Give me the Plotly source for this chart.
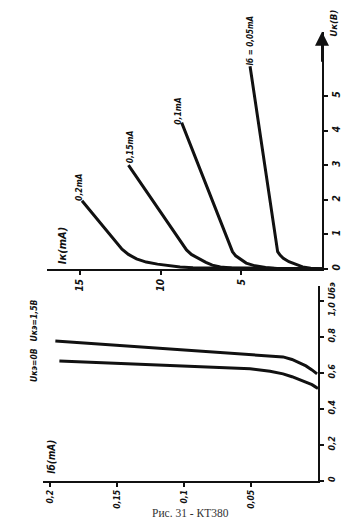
import plotly.graph_objects as go

W, H = 354, 531

# ---------------- data ----------------
# Output characteristics: Ik (mA) vs Uk (V), for base currents
ib_labels = ["Iб = 0,05mA", "0,1mA", "0,15mA", "0,2mA"]
ik_005 = [0, 0.7, 1.2, 1.67, 2.05, 2.4, 2.6, 2.75, 4.46]
uk_005 = [0, 0.02, 0.06, 0.14, 0.21, 0.31, 0.4, 0.5, 5.86]
ik_01 = [0, 2.6, 3.5, 4.15, 4.7, 5.1, 5.35, 5.55, 8.7]
uk_01 = [0, 0.01, 0.04, 0.09, 0.17, 0.29, 0.38, 0.5, 4.23]
ik_015 = [0, 4.5, 5.6, 6.3, 6.8, 7.2, 7.6, 8.1, 8.4, 12.0]
uk_015 = [0, 0.01, 0.03, 0.06, 0.11, 0.19, 0.29, 0.42, 0.55, 3.0]
ik_02 = [0, 7.0, 8.0, 8.8, 9.5, 10.2, 10.9, 11.5, 12.0, 12.4, 14.88]
uk_02 = [0, 0.02, 0.035, 0.06, 0.09, 0.14, 0.2, 0.29, 0.42, 0.57, 1.97]

# Input characteristics: Ib (mA) vs Ube (V)
ib_uce15 = [0.196, 0.0507, 0.0358, 0.0261, 0.0194, 0.0134, 0.009, 0.0045, 0.0022, 0.0007]
ube_uce15 = [0.775, 0.698, 0.692, 0.687, 0.673, 0.654, 0.637, 0.615, 0.604, 0.593]
ib_uce0 = [0.193, 0.0507, 0.0358, 0.0261, 0.0194, 0.0134, 0.009, 0.0045, 0.0022, 0.0]
ube_uce0 = [0.665, 0.621, 0.607, 0.593, 0.577, 0.56, 0.547, 0.533, 0.522, 0.511]
uce_labels = ["Uкэ=1,5В", "Uкэ=0В"]

ik_ticks = [5, 10, 15]
ik_ticktext = ["5", "10", "15"]
uk_ticks = [0, 1, 2, 3, 4, 5]
uk_ticktext = ["0", "1", "2", "3", "4", "5"]
ib_ticks = [0.05, 0.1, 0.15, 0.2]
ib_ticktext = ["0,05", "0,1", "0,15", "0,2"]
ube_ticks = [0, 0.2, 0.4, 0.6, 0.8, 1.0]
ube_ticktext = ["0", "0,2", "0,4", "0,6", "0,8", "1,0 Uбэ"]

caption = "Рис. 31 - КТ380"

# ---------------- style ----------------
INK = "#111111"
FONT = "DejaVu Sans Condensed, Liberation Sans Narrow, DejaVu Sans, sans-serif"


def px_x(p):
    return p / W


def px_y(p):
    return 1 - p / H


fig = go.Figure()

curve_style = dict(mode="lines", line=dict(color=INK, width=3, shape="linear"),
                   hoverinfo="skip", showlegend=False)

for xs, ys in [(ik_005, uk_005), (ik_01, uk_01), (ik_015, uk_015), (ik_02, uk_02)]:
    fig.add_trace(go.Scatter(x=xs, y=ys, xaxis="x", yaxis="y", **curve_style))

for xs, ys in [(ib_uce15, ube_uce15), (ib_uce0, ube_uce0)]:
    fig.add_trace(go.Scatter(x=xs, y=ys, xaxis="x2", yaxis="y2", **curve_style))


def tf(size):
    return dict(family=FONT, size=size, color=INK, weight="bold", style="italic")


axis_common = dict(showgrid=False, zeroline=False, showline=True, linecolor=INK,
                   linewidth=2, ticks="outside", ticklen=4, tickwidth=1.5, tickcolor=INK,
                   tickangle=-90, fixedrange=True)

fig.update_layout(
    width=W, height=H,
    margin=dict(l=0, r=0, t=0, b=0),
    paper_bgcolor="white", plot_bgcolor="white",
    xaxis=dict(domain=[px_x(47), px_x(322)], range=[(322 - 47) / 16.13, 0], anchor="y",
               tickvals=ik_ticks, ticktext=ik_ticktext, tickfont=tf(10), **axis_common),
    yaxis=dict(domain=[px_y(268), px_y(28)], range=[0, (268 - 28) / 35.0], anchor="x",
               side="right", tickvals=uk_ticks, ticktext=uk_ticktext, tickfont=tf(10),
               **axis_common),
    xaxis2=dict(domain=[px_x(43), px_x(318)], range=[(318 - 43) / 1340.0, 0], anchor="y2",
                tickvals=ib_ticks, ticktext=ib_ticktext, tickfont=tf(8.5), **axis_common),
    yaxis2=dict(domain=[px_y(482), px_y(285)], range=[0, (482 - 285) / 182.0], anchor="x2",
                side="right", tickvals=ube_ticks, ticktext=ube_ticktext, tickfont=tf(9),
                **axis_common),
)

# arrow on the Uk axis
fig.add_annotation(x=0, y=(268 - 28) / 35.0, xref="x", yref="y",
                   ax=0, ay=(268 - 60) / 35.0, axref="x", ayref="y",
                   showarrow=True, arrowhead=2, arrowsize=1.4, arrowwidth=2,
                   arrowcolor=INK, text="")

labels = [
    ("Uк(В)", 334, 20, 9.5),
    (ib_labels[0], 250, 37, 8),
    (ib_labels[1], 178, 108, 8.5),
    (ib_labels[2], 130, 145, 8.5),
    (ib_labels[3], 79, 185, 8.5),
    ("Iк(mA)", 62, 245, 11),
    (uce_labels[0], 34, 320, 8.5),
    (uce_labels[1], 34, 365, 8.5),
    ("Iб(mA)", 52, 458, 10),
]
for txt, x, y, s in labels:
    fig.add_annotation(x=px_x(x), y=px_y(y), xref="paper", yref="paper",
                       text=txt, showarrow=False, textangle=-90,
                       font=tf(s), xanchor="center", yanchor="middle")

fig.add_annotation(x=px_x(190), y=px_y(515), xref="paper", yref="paper",
                   text=caption, showarrow=False,
                   font=dict(family="Liberation Serif, DejaVu Serif, serif", size=11.5, color="#333333"),
                   xanchor="center", yanchor="middle")

fig.write_html("out.html")
